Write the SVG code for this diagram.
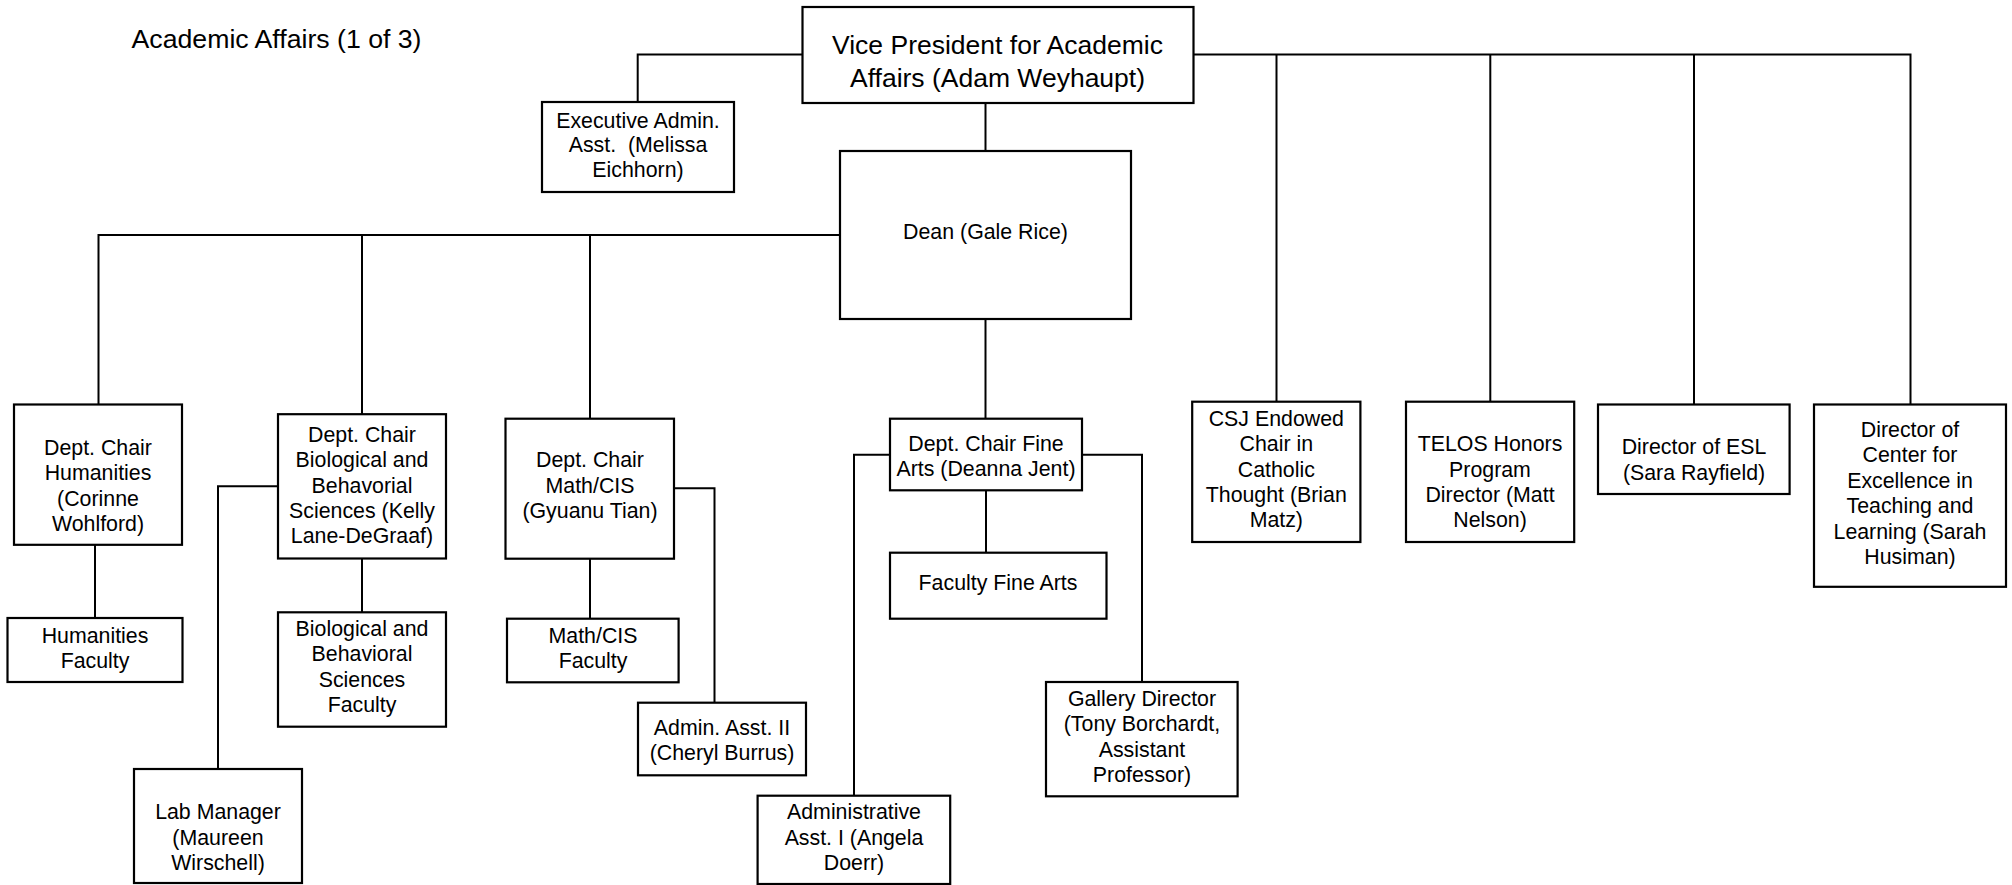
<svg xmlns="http://www.w3.org/2000/svg" width="2012" height="885" viewBox="0 0 2012 885">
<style>
  .box { fill: #ffffff; stroke: #000000; stroke-width: 2.2; }
  .conn { fill: none; stroke: #000000; stroke-width: 2; }
  text { font-family: "Liberation Sans", Arial, sans-serif; fill: #000000; }
  .t { font-size: 21.33px; text-anchor: middle; }
  .big { font-size: 26.5px; text-anchor: middle; }
  .title { font-size: 26.67px; }
</style>
<rect x="0" y="0" width="2012" height="885" fill="#ffffff"/>
<text class="title" x="131.6" y="48">Academic Affairs (1 of 3)</text>
<g id="connectors">
  <path class="conn" d="M802.5 54.5 H637.7 V102"/>
  <path class="conn" d="M985.5 103 V151"/>
  <path class="conn" d="M840 235 H98.5 V404.5"/>
  <path class="conn" d="M362 235 V414"/>
  <path class="conn" d="M590 235 V418.7"/>
  <path class="conn" d="M985.5 319 V418.7"/>
  <path class="conn" d="M1193 54.5 H1910.5 V404.3"/>
  <path class="conn" d="M1276.5 54.5 V401.7"/>
  <path class="conn" d="M1490.3 54.5 V401.7"/>
  <path class="conn" d="M1694 54.5 V404.3"/>
  <path class="conn" d="M95 544.7 V618"/>
  <path class="conn" d="M362 558.7 V612.3"/>
  <path class="conn" d="M278 486.3 H218 V769"/>
  <path class="conn" d="M590 558.7 V618.7"/>
  <path class="conn" d="M674 488.3 H714.5 V702.7"/>
  <path class="conn" d="M986 490.3 V552.7"/>
  <path class="conn" d="M890 454.7 H854 V795.7"/>
  <path class="conn" d="M1082 454.7 H1142 V682"/>
</g>
<g id="vp">
  <rect class="box" x="802.5" y="7" width="391" height="96"/>
  <text class="big" x="997.5" y="54.3">Vice President for Academic</text>
  <text class="big" x="997.5" y="86.5">Affairs (Adam Weyhaupt)</text>
</g>
<g id="exec">
  <rect class="box" x="542" y="102" width="192" height="90"/>
  <text class="t" x="638" y="127.7">Executive Admin.</text>
  <text class="t" x="638" y="152.3" style="white-space:pre">Asst.  (Melissa</text>
  <text class="t" x="638" y="176.7">Eichhorn)</text>
</g>
<g id="dean">
  <rect class="box" x="840" y="151" width="291" height="168"/>
  <text class="t" x="985.5" y="239">Dean (Gale Rice)</text>
</g>
<g id="hum_chair">
  <rect class="box" x="14" y="404.5" width="168" height="140.3"/>
  <text class="t" x="98" y="455">Dept. Chair</text>
  <text class="t" x="98" y="480.3">Humanities</text>
  <text class="t" x="98" y="505.5">(Corinne</text>
  <text class="t" x="98" y="530.7">Wohlford)</text>
</g>
<g id="hum_fac">
  <rect class="box" x="7.5" y="618" width="175" height="64"/>
  <text class="t" x="95" y="643">Humanities</text>
  <text class="t" x="95" y="668">Faculty</text>
</g>
<g id="bio_chair">
  <rect class="box" x="278" y="414.2" width="168" height="144.3"/>
  <text class="t" x="362" y="441.7">Dept. Chair</text>
  <text class="t" x="362" y="467">Biological and</text>
  <text class="t" x="362" y="492.5">Behavorial</text>
  <text class="t" x="362" y="518">Sciences (Kelly</text>
  <text class="t" x="362" y="543.3">Lane-DeGraaf)</text>
</g>
<g id="bio_fac">
  <rect class="box" x="278" y="612.3" width="168" height="114.4"/>
  <text class="t" x="362" y="636">Biological and</text>
  <text class="t" x="362" y="661.3">Behavioral</text>
  <text class="t" x="362" y="686.7">Sciences</text>
  <text class="t" x="362" y="712">Faculty</text>
</g>
<g id="lab">
  <rect class="box" x="134" y="769" width="168" height="114"/>
  <text class="t" x="218" y="819.3">Lab Manager</text>
  <text class="t" x="218" y="844.7">(Maureen</text>
  <text class="t" x="218" y="870">Wirschell)</text>
</g>
<g id="math_chair">
  <rect class="box" x="505.5" y="418.7" width="168.5" height="140"/>
  <text class="t" x="590" y="467">Dept. Chair</text>
  <text class="t" x="590" y="492.5">Math/CIS</text>
  <text class="t" x="590" y="518">(Gyuanu Tian)</text>
</g>
<g id="math_fac">
  <rect class="box" x="507" y="618.7" width="171.6" height="63.6"/>
  <text class="t" x="593" y="642.5">Math/CIS</text>
  <text class="t" x="593" y="667.8">Faculty</text>
</g>
<g id="admin2">
  <rect class="box" x="638" y="702.7" width="168" height="72.6"/>
  <text class="t" x="722" y="735">Admin. Asst. II</text>
  <text class="t" x="722" y="760.3">(Cheryl Burrus)</text>
</g>
<g id="fa_chair">
  <rect class="box" x="890" y="418.7" width="192" height="71.6"/>
  <text class="t" x="986" y="451">Dept. Chair Fine</text>
  <text class="t" x="986" y="476.3">Arts (Deanna Jent)</text>
</g>
<g id="fa_fac">
  <rect class="box" x="890" y="552.7" width="216.5" height="66"/>
  <text class="t" x="998" y="590.3">Faculty Fine Arts</text>
</g>
<g id="admin1">
  <rect class="box" x="757.6" y="795.7" width="192.6" height="88.3"/>
  <text class="t" x="854" y="819">Administrative</text>
  <text class="t" x="854" y="844.5">Asst. I (Angela</text>
  <text class="t" x="854" y="870">Doerr)</text>
</g>
<g id="gallery">
  <rect class="box" x="1046" y="682" width="191.6" height="114.3"/>
  <text class="t" x="1142" y="705.5">Gallery Director</text>
  <text class="t" x="1142" y="731">(Tony Borchardt,</text>
  <text class="t" x="1142" y="756.5">Assistant</text>
  <text class="t" x="1142" y="782">Professor)</text>
</g>
<g id="csj">
  <rect class="box" x="1192.2" y="401.7" width="168.2" height="140.3"/>
  <text class="t" x="1276.3" y="425.7">CSJ Endowed</text>
  <text class="t" x="1276.3" y="451">Chair in</text>
  <text class="t" x="1276.3" y="476.5">Catholic</text>
  <text class="t" x="1276.3" y="502">Thought (Brian</text>
  <text class="t" x="1276.3" y="527">Matz)</text>
</g>
<g id="telos">
  <rect class="box" x="1406" y="401.7" width="168.2" height="140.3"/>
  <text class="t" x="1490" y="451">TELOS Honors</text>
  <text class="t" x="1490" y="476.5">Program</text>
  <text class="t" x="1490" y="502">Director (Matt</text>
  <text class="t" x="1490" y="527">Nelson)</text>
</g>
<g id="esl">
  <rect class="box" x="1598" y="404.5" width="191.6" height="89.5"/>
  <text class="t" x="1694" y="454.3">Director of ESL</text>
  <text class="t" x="1694" y="480">(Sara Rayfield)</text>
</g>
<g id="cetl">
  <rect class="box" x="1814" y="404.5" width="192" height="182.3"/>
  <text class="t" x="1910" y="436.5">Director of</text>
  <text class="t" x="1910" y="462">Center for</text>
  <text class="t" x="1910" y="487.7">Excellence in</text>
  <text class="t" x="1910" y="513.3">Teaching and</text>
  <text class="t" x="1910" y="538.8">Learning (Sarah</text>
  <text class="t" x="1910" y="564.3">Husiman)</text>
</g>
</svg>
